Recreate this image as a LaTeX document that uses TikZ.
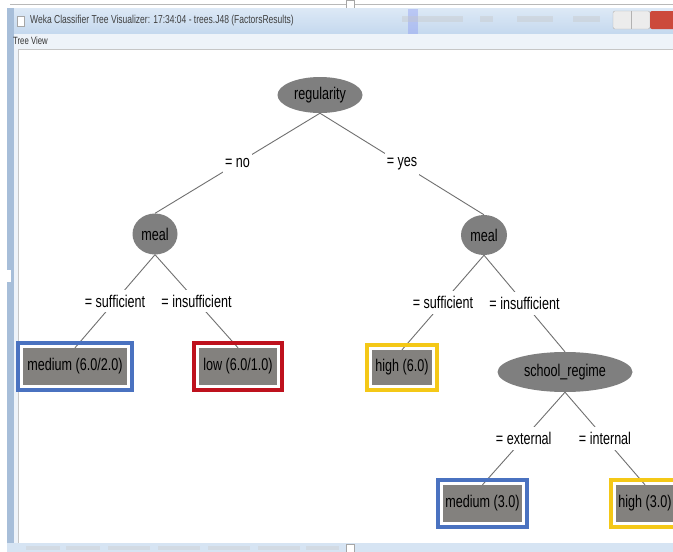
\documentclass[tikz,border=0pt]{standalone}
\usepackage{fontspec}
\setmainfont{Liberation Sans}[FakeStretch=0.74]
\usetikzlibrary{shapes.geometric,fit}
\definecolor{nodegray}{HTML}{7F7F7F}
\definecolor{leafgray}{HTML}{83817E}
\definecolor{edgegray}{HTML}{707070}
\definecolor{frameblue}{HTML}{4A72C0}
\definecolor{framered}{HTML}{BE111D}
\definecolor{frameyellow}{HTML}{F4C817}
\definecolor{titleA}{HTML}{C4D8EE}
\definecolor{titleB}{HTML}{DDE9F6}
\definecolor{winborder}{HTML}{A7BED9}
\definecolor{paneledge}{HTML}{EEF3F9}
\definecolor{closered}{HTML}{CC4A3C}
\begin{document}
\begin{tikzpicture}[x=1pt,y=-1pt,
  treefont/.style={font=\fontsize{17}{17}\selectfont},
  inode/.style={ellipse, fill=nodegray, treefont, inner sep=0pt},
  leaf/.style={rectangle, fill=leafgray, treefont, inner sep=0pt, minimum height=37pt},
  hlframe/.style={draw=#1, line width=4pt, inner sep=5pt},
  edge/.style={draw=edgegray, line width=0.9pt},
  elabel/.style={fill=white, treefont, inner xsep=2pt, inner ysep=5pt},
  ghost/.style={fill=#1, opacity=0.4},
]
\useasboundingbox (0,0) rectangle (673,552);
\begin{scope}
\clip (0,0) rectangle (673,552);
\fill[white] (0,0) rectangle (673,552);
% top edge of a window behind
\draw[gray!55, line width=1pt] (10,4) -- (673,4);
\draw[gray!70, fill=white] (346,0) rectangle (354,10);
% window frame left
\fill[winborder] (7,8) rectangle (14,552);
\fill[white] (7,270) rectangle (11,282);
% title bar
\shade[top color=titleB, bottom color=titleA] (14,8) rectangle (673,34);
\fill[ghost=titleA!70!blue] (408,9) rectangle (418,34);
\fill[ghost=gray!45] (402,16) rectangle (463,22);
\fill[ghost=gray!45] (480,16) rectangle (493,22);
\fill[ghost=gray!45] (517,16) rectangle (553,22);
\fill[ghost=gray!45] (573,16) rectangle (600,22);
\draw[gray!60, fill=gray!15, rounded corners=2pt] (613,11) rectangle (650,29);
\draw[gray!60] (631.5,11) -- (631.5,29);
\fill[closered, rounded corners=2pt] (650,11) rectangle (676,29);
\draw[gray!70, fill=white] (17,16) rectangle (24,26);
\node[anchor=west, inner sep=0pt, text=black!75, font=\fontsize{11.5}{11.5}\selectfont] (title) at (30,21)
  {Weka Classifier Tree Visualizer: 17:34:04 - trees.J48 (FactorsResults)};
% tree view label strip
\fill[paneledge] (14,34) rectangle (673,49);
\node[anchor=west, inner sep=0pt, text=black!80, font=\fontsize{10.5}{10.5}\selectfont] (tv) at (13,41) {Tree View};
% panel
\fill[paneledge] (14,49) rectangle (18,543);
\draw[gray!45, fill=white] (18,49) rectangle (690,543);
% bottom strip
\fill[titleA!70!white] (7,543) rectangle (673,552);
\foreach \a/\b in {26/60,66/100,108/150,158/200,208/250,258/300,306/339}{
  \fill[ghost=gray!40] (\a,546) rectangle (\b,550);
}
\draw[gray!70, fill=white] (346,544) rectangle (354,552);

% tree nodes
\node[inode, minimum width=85pt, minimum height=36pt] (reg) at (320,95) {regularity};
\node[inode, minimum width=45pt, minimum height=41pt] (mL) at (155,234) {meal};
\node[inode, minimum width=46pt, minimum height=40pt] (mR) at (484,235) {meal};
\node[inode, minimum width=135pt, minimum height=40pt] (sr) at (565,372) {school\_regime};
\node[leaf, minimum width=104pt] (l1) at (75,366.5) {medium (6.0/2.0)};
\node[leaf, minimum width=78pt] (l2) at (238,366.5) {low (6.0/1.0)};
\node[leaf, minimum width=60pt, minimum height=35pt] (l3) at (402,367.5) {high (6.0)};
\node[leaf, minimum width=79pt] (l4) at (482.5,503.5) {medium (3.0)};
\node[leaf, minimum width=58pt] (l5) at (645,503.5) {high (3.0)};

% connectors
\draw[edge] (reg.south) -- node[elabel] {= no} (mL.north);
\draw[edge] (reg.south) -- node[elabel] {= yes} (mR.north);
\draw[edge] (mL.south) -- node[elabel] {= sufficient} (l1.north);
\draw[edge] (mL.south) -- node[elabel] {= insufficient} (l2.north);
\draw[edge] (mR.south) -- node[elabel] {= sufficient} (l3.north);
\draw[edge] (mR.south) -- node[elabel] {= insufficient} (sr.north);
\draw[edge] (sr.south) -- node[elabel] {= external} (l4.north);
\draw[edge] (sr.south) -- node[elabel] {= internal} (l5.north);

% highlight frames
\node[hlframe=frameblue, fit=(l1)] (f1) {};
\node[hlframe=framered, fit=(l2)] (f2) {};
\node[hlframe=frameyellow, fit=(l3)] (f3) {};
\node[hlframe=frameblue, fit=(l4)] (f4) {};
\node[hlframe=frameyellow, fit=(l5)] (f5) {};
\end{scope}
\end{tikzpicture}
\end{document}
